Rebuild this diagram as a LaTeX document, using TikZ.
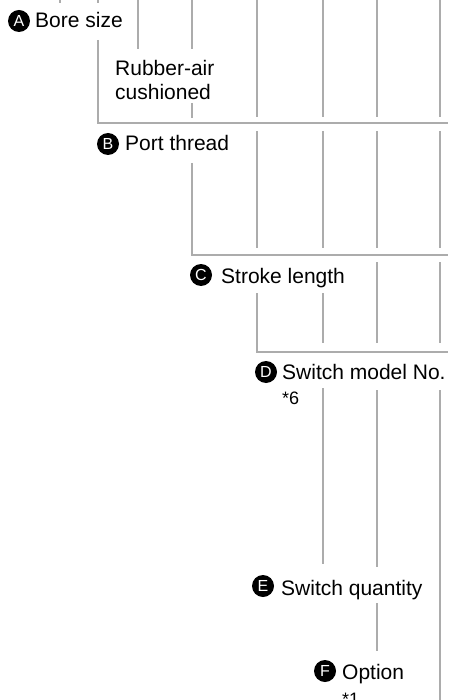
\documentclass[tikz,border=0pt]{standalone}
\usepackage{fontspec}
\setmainfont{Liberation Sans}
\usetikzlibrary{positioning}

\begin{document}
\begin{tikzpicture}[
  x=1pt, y=-1pt,
  guide/.style={draw=gray!65, line width=2pt},
  badge/.style={circle, fill=black, text=white, inner sep=0pt, minimum size=22pt, font=\fontsize{16}{16}\selectfont},
  lbl/.style={anchor=base west, inner sep=0pt, font=\fontsize{21}{24}\selectfont},
  note/.style={anchor=base west, inner sep=0pt, font=\fontsize{18}{20}\selectfont}
]
\useasboundingbox (0,0) rectangle (448,700);

% Guide lines
\draw[guide] (60,0) -- (60,3);
\draw[guide] (98,0) -- (98,3);
\draw[guide] (98,40) -- (98,123) -- (448,123);
\draw[guide] (138,0) -- (138,49);
\draw[guide] (192,0) -- (192,49) (192,103) -- (192,118);
\draw[guide] (192,163) -- (192,255) -- (448,255);
\draw[guide] (257,0) -- (257,117) (257,131) -- (257,248);
\draw[guide] (257,293) -- (257,352) -- (448,352);
\foreach \x in {323,377,440}
  \draw[guide] (\x,0) -- (\x,117) (\x,131) -- (\x,248);
\draw[guide] (323,293) -- (323,343) (323,388) -- (323,564);
\draw[guide] (377,262) -- (377,343) (377,390) -- (377,567) (377,603) -- (377,651);
\draw[guide] (440,262) -- (440,343) (440,390) -- (440,700);

% Labels
\node[badge] (bA) at (19,21) {A};
\node[lbl] (bore) at (35,28) {Bore size};
\node[lbl, align=left] (rubber) at (115,100) {Rubber-air\\cushioned};

\node[badge] (bB) at (108,144) {B};
\node[lbl] (port) at (125,151) {Port thread};

\node[badge] (bC) at (201,275) {C};
\node[lbl] (stroke) at (221,283) {Stroke length};

\node[badge] (bD) at (266,372) {D};
\node[lbl] (model) at (282,379) {Switch model No.};
\node[note] (six) at (282,404) {*6};

\node[badge] (bE) at (263,586) {E};
\node[lbl] (qty) at (281,595) {Switch quantity};

\node[badge] (bF) at (325,671) {F};
\node[lbl] (opt) at (342,679) {Option};
\node[note] (one) at (342,705) {*1};
\end{tikzpicture}
\end{document}
